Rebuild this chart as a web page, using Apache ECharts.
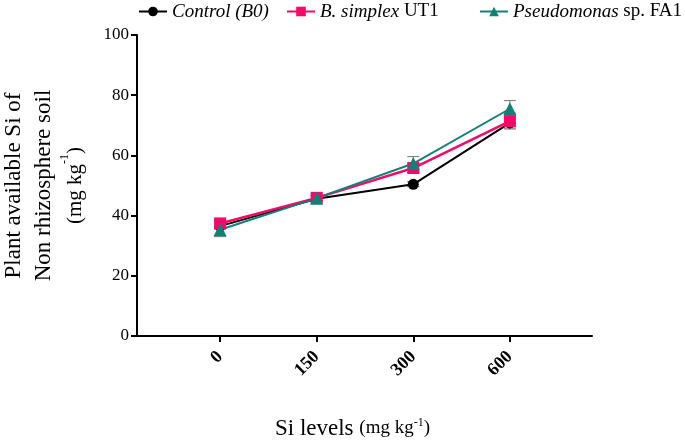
<!DOCTYPE html>
<html>
<head>
<meta charset="utf-8">
<script src="https://cdn.jsdelivr.net/npm/echarts@6/dist/echarts.min.js"></script>
<style>
  html, body { margin: 0; padding: 0; background: #fff; }
  #chart { width: 685px; height: 443px; }
</style>
</head>
<body>
<div id="chart"></div>
<script>
// Si levels (x categories)
const siLevels = ['0', '150', '300', '600']

// mean values
const control = [36.5, 45.6, 50.4, 70.8]
const controlErr = [0.9, 0.8, 0.8, 1.3]
const simplex = [37.4, 45.9, 55.8, 71.4]
const simplexErr = [1.2, 1.0, 1.5, 2.6]
const pseudo = [35.3, 45.8, 57.3, 75.5]
const pseudoErr = [2.3, 1.0, 2.3, 2.7]

const seriesNames = ['Control (B0)', 'B. simplex UT1', 'Pseudomonas sp. FA1']

const FONT = 'Liberation Serif'

const colors = {
  control: '#000000',
  simplex: '#f8086a',
  pseudo: '#138078'
}

function points(values) {
  return values.map((v, i) => [i, v])
}

function errData(values, errs) {
  return values.map((v, i) => [i, v - errs[i], v + errs[i]])
}

// 误差线
function errorSeries(name, values, errs, color) {
  return {
    name: name + ' err',
    type: 'custom',
    z: 1,
    silent: true,
    data: errData(values, errs),
    renderItem(params, api) {
      const lo = api.coord([api.value(0), api.value(1)])
      const hi = api.coord([api.value(0), api.value(2)])
      const cap = 6
      const style = { stroke: color, lineWidth: 1 }
      return {
        type: 'group',
        children: [
          { type: 'line', shape: { x1: lo[0], y1: lo[1], x2: hi[0], y2: hi[1] }, style },
          { type: 'line', shape: { x1: lo[0] - cap, y1: lo[1], x2: lo[0] + cap, y2: lo[1] }, style },
          { type: 'line', shape: { x1: hi[0] - cap, y1: hi[1], x2: hi[0] + cap, y2: hi[1] }, style }
        ]
      }
    }
  }
}

// 图例：每项单独定位，部分斜体
function legendItem(name, left) {
  return {
    data: [name],
    top: -3,
    left,
    itemWidth: 28,
    itemHeight: 12,
    formatter(n) {
      if (n === 'Control (B0)') return '{i|Control (B0)}'
      if (n === 'B. simplex UT1') return '{i|B. simplex} {n|UT1}'
      return '{i|Pseudomonas} {n|sp. FA1}'
    },
    textStyle: {
      fontFamily: FONT,
      fontSize: 19,
      color: '#000',
      rich: {
        i: { fontFamily: FONT, fontSize: 19, fontStyle: 'italic', color: '#000' },
        n: { fontFamily: FONT, fontSize: 19, color: '#000' }
      }
    }
  }
}

const chart = echarts.init(document.getElementById('chart'))
chart.setOption({
  animation: false,
  legend: [
    legendItem(seriesNames[0], 133),
    legendItem(seriesNames[1], 281),
    legendItem(seriesNames[2], 474)
  ],
  grid: { left: 137, right: 93, top: 35, bottom: 107, outerBoundsMode: 'none', containLabel: false },
  xAxis: {
    type: 'value',
    min: -0.86,
    max: 3.85,
    name: '{a|Si levels }{b|(mg kg}{s|-1}{b|)}',
    nameLocation: 'middle',
    nameGap: 81,
    nameTextStyle: {
      padding: [0, 24, 0, 0],
      rich: {
        a: { fontFamily: FONT, fontSize: 23, color: '#000' },
        b: { fontFamily: FONT, fontSize: 19, color: '#000' },
        s: { fontFamily: FONT, fontSize: 12, color: '#000', verticalAlign: 'top', padding: [0, 0, 10, 0] }
      }
    },
    splitLine: { show: false },
    axisLine: { onZero: false, lineStyle: { color: '#000', width: 2 } },
    axisTick: { customValues: [0, 1, 2, 3], length: 6, lineStyle: { color: '#000', width: 2 } },
    axisLabel: {
      customValues: [0, 1, 2, 3],
      formatter: v => siLevels[v],
      rotate: 45,
      margin: 18,
      fontFamily: FONT,
      fontSize: 18,
      fontWeight: 'bold',
      color: '#000'
    }
  },
  yAxis: {
    type: 'value',
    min: 0,
    max: 100,
    interval: 20,
    name: '{a|Plant available Si of}\n{a|Non rhizosphere soil}\n{b|(mg kg}{s|-1}{b|)}',
    nameLocation: 'middle',
    nameRotate: 90,
    nameGap: 36,
    nameTextStyle: {
      lineHeight: 31,
      rich: {
        a: { fontFamily: FONT, fontSize: 23, color: '#000', lineHeight: 30 },
        b: { fontFamily: FONT, fontSize: 21, color: '#000', lineHeight: 34 },
        s: { fontFamily: FONT, fontSize: 12, color: '#000', verticalAlign: 'top', lineHeight: 34 }
      }
    },
    splitLine: { show: false },
    axisLine: { show: true, onZero: false, lineStyle: { color: '#000', width: 2 } },
    axisTick: { show: true, length: 6, lineStyle: { color: '#000', width: 2 } },
    axisLabel: { margin: 8, fontFamily: FONT, fontSize: 17, color: '#000' }
  },
  series: [
    errorSeries(seriesNames[0], control, controlErr, '#444'),
    errorSeries(seriesNames[1], simplex, simplexErr, '#555'),
    errorSeries(seriesNames[2], pseudo, pseudoErr, '#777'),
    {
      name: seriesNames[0],
      type: 'line',
      data: points(control),
      symbol: 'circle',
      symbolSize: 11,
      lineStyle: { color: colors.control, width: 2 },
      itemStyle: { color: colors.control }
    },
    {
      name: seriesNames[1],
      type: 'line',
      data: points(simplex),
      symbol: 'rect',
      symbolSize: 12,
      lineStyle: { color: colors.simplex, width: 2.5 },
      itemStyle: { color: colors.simplex }
    },
    {
      name: seriesNames[2],
      type: 'line',
      data: points(pseudo),
      symbol: 'triangle',
      symbolSize: 13,
      lineStyle: { color: colors.pseudo, width: 2 },
      itemStyle: { color: colors.pseudo }
    }
  ]
})
</script>
</body>
</html>
